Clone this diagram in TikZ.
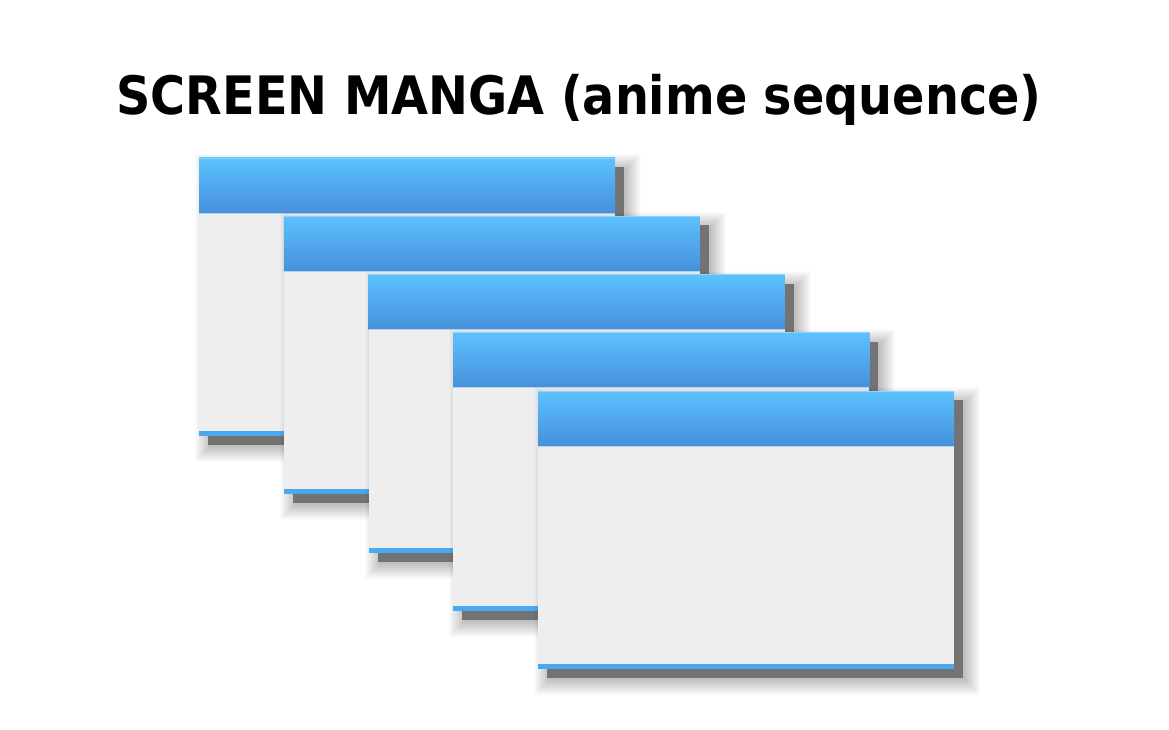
\documentclass[tikz,border=0pt]{standalone}
\usepackage{fontspec}
\setmainfont{DejaVu Sans}
\newfontfamily\titlefam{DejaVu Sans Condensed}
\definecolor{hdtop}{HTML}{5CC1FF}
\definecolor{hdbot}{HTML}{4690DA}
\definecolor{winbg}{HTML}{EEEEEE}
\definecolor{shd}{HTML}{737373}
\definecolor{baseblue}{HTML}{4AA8F0}
\definecolor{hdedge}{HTML}{8ED4FF}
\tikzset{
  winbody/.style={fill=winbg, minimum width=416pt, minimum height=278pt, inner sep=0pt, outer sep=0pt, anchor=north west},
  winhead/.style={top color=hdtop, bottom color=hdbot, minimum width=416pt, minimum height=55pt, inner sep=0pt, outer sep=0pt, anchor=north west},
  winfoot/.style={fill=baseblue, minimum width=416pt, minimum height=5pt, inner sep=0pt, outer sep=0pt, anchor=south west},
  winshadow/.style={fill=shd, minimum width=416pt, minimum height=278pt, inner sep=0pt, outer sep=0pt, anchor=north west},
  glow/.style={fill=black, opacity=0.016},
  titlefont/.style={font=\titlefam\fontsize{53}{60}\selectfont\bfseries, inner sep=0pt, anchor=base}
}
\begin{document}
\begin{tikzpicture}[x=1pt,y=-1pt]
\fill[white] (0,0) rectangle (1169,730);
\useasboundingbox (0,0) rectangle (1169,730);
\node[titlefont] (title) at (579,115) {SCREEN MANGA (anime sequence)};
\foreach \i in {0,...,4}{
  \pgfmathsetmacro{\wx}{199+84.75*\i}
  \pgfmathsetmacro{\wy}{158+58.25*\i}
  \foreach \k in {0,...,15}{
    \fill[glow] (\wx+11-\k, \wy+11-\k) rectangle (\wx+427+\k, \wy+289+\k);
  }
  \node[winshadow] (s\i) at (\wx+9, \wy+9) {};
  \node[winbody] (w\i) at (\wx, \wy) {};
  \node[winhead] (h\i) at (w\i.north west) {};
  \node[winfoot] (f\i) at (w\i.south west) {};
  \draw[hdedge, line width=0.8pt] (h\i.north west) -- (h\i.north east);
  \draw[white, opacity=0.6, line width=0.8pt] (h\i.south west) -- (h\i.south east);
}
\end{tikzpicture}
\end{document}
